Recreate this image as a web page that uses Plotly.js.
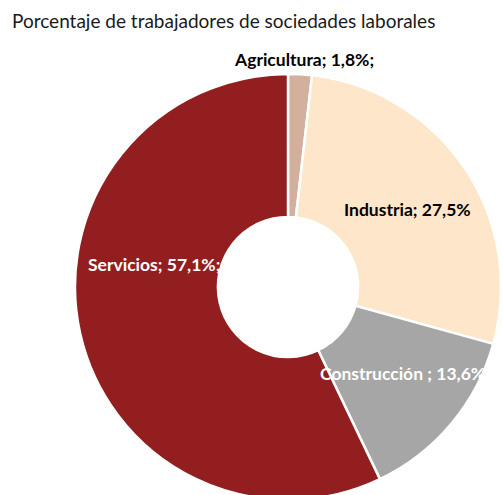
<!DOCTYPE html>
<html>
<head>
<meta charset="utf-8">
<script src="https://cdn.plot.ly/plotly-3.0.1.min.js"></script>
<style>
html,body{margin:0;padding:0;overflow:hidden;background:#fff;}
#chart{width:503px;height:520px;}
</style>
</head>
<body>
<div id="chart"></div>
<script>
const categories = ["Agricultura", "Industria", "Construcción", "Servicios"];
const values = [1.8, 27.5, 13.6, 57.1];
const labelTexts = ["Agricultura; 1,8%;", "Industria; 27,5%", "Construcción ; 13,6%", "Servicios; 57,1%;"];
const colors = ["#D3AF9E", "#FDE6CA", "#A6A6A6", "#921E1F"];
const labelColors = ["#000000", "#000000", "#FFFFFF", "#FFFFFF"];
const labelPos = [[304, 59], [407, 209], [402, 373], [154, 264]];

const W = 503, H = 520;
const FONT = "Lato, 'Open Sans', sans-serif";

const trace = {
  type: "pie",
  labels: categories,
  values: values,
  sort: false,
  direction: "clockwise",
  rotation: 0,
  hole: 0.329,
  marker: {colors: colors, line: {color: "#FFFFFF", width: 2.5}},
  textinfo: "none",
  hoverinfo: "label+percent",
  showlegend: false,
  domain: {x: [75 / W, 501 / W], y: [20 / H, 446 / H]}
};

const annotations = categories.map((c, i) => ({
  xref: "paper", yref: "paper",
  x: labelPos[i][0] / W, y: 1 - labelPos[i][1] / H,
  xanchor: "center", yanchor: "middle",
  text: "<b>" + labelTexts[i] + "</b>",
  showarrow: false,
  font: {family: FONT, size: 17.5, color: labelColors[i]}
}));

const layout = {
  width: W, height: H,
  margin: {l: 0, r: 0, t: 0, b: 0},
  paper_bgcolor: "#FFFFFF",
  title: {
    text: "Porcentaje de trabajadores de sociedades laborales",
    x: 12 / W, xanchor: "left", xref: "paper",
    y: 1 - 21 / H, yanchor: "middle", yref: "container",
    font: {family: FONT, size: 19, color: "#1a1a1a"}
  },
  annotations: annotations
};

Plotly.newPlot("chart", [trace], layout, {displayModeBar: false, staticPlot: true});
</script>
</body>
</html>
